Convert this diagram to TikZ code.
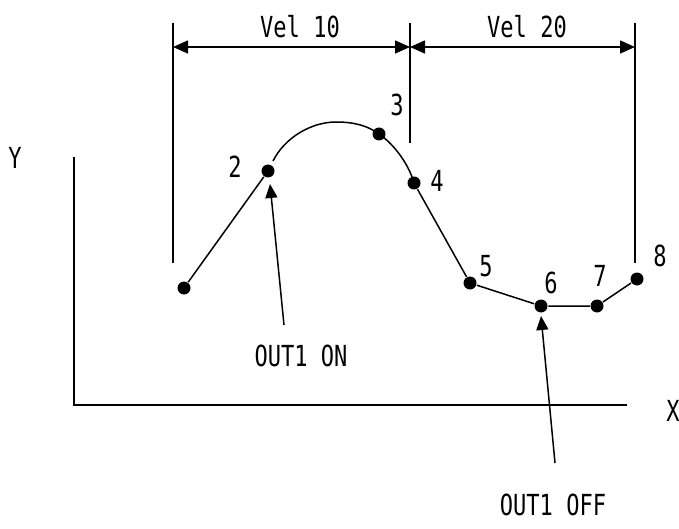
\documentclass[tikz,border=0pt]{standalone}
\usepackage{fontspec}
\newfontfamily\gothfont[FakeStretch=0.76]{DejaVu Sans Mono}
\usetikzlibrary{arrows.meta}

\tikzset{
    punto/.style={circle, fill=black, inner sep=0pt, minimum size=13pt},
    etichetta/.style={font=\gothfont\fontsize{29}{29}\selectfont, inner sep=0pt},
    freccia/.style={line width=1.5pt, -{Triangle[length=14pt,width=12pt]}},
    quota/.style={line width=1.5pt, {Triangle[length=15pt,width=13pt]}-{Triangle[length=15pt,width=13pt]}}
}

\begin{document}
\begin{tikzpicture}[x=1pt, y=-1pt, line width=1.5pt]
    \useasboundingbox (0,0) rectangle (679,529);

    % Assi cartesiani
    \coordinate (ytop) at (74,157);
    \coordinate (orig) at (74,405);
    \coordinate (xend) at (627,405);
    \draw (ytop) -- (orig) -- (xend);
    \node[etichetta] (ylab) at (15,158) {Y};
    \node[etichetta] (xlab) at (673,411) {X};

    % Punti della traiettoria
    \node[punto] (p1) at (184,288) {};
    \node[punto] (p2) at (268,171) {};
    \node[punto] (p3) at (379,134) {};
    \node[punto] (p4) at (414,183) {};
    \node[punto] (p5) at (470,283) {};
    \node[punto] (p6) at (541,306) {};
    \node[punto] (p7) at (597,306) {};
    \node[punto] (p8) at (637,279) {};

    % Numeri dei punti
    \node[etichetta] (n2) at (235,167) {2};
    \node[etichetta] (n3) at (397,105) {3};
    \node[etichetta] (n4) at (437,181) {4};
    \node[etichetta] (n5) at (486,266) {5};
    \node[etichetta] (n6) at (551,283) {6};
    \node[etichetta] (n7) at (600,276) {7};
    \node[etichetta] (n8) at (660,256) {8};

    % Tratti rettilinei e arco
    \coordinate (c2) at (273,161);
    \draw (p1) -- (p2);
    \draw (c2) .. controls (285,137) and (312,122) .. (336,122)
               .. controls (355,122) and (368,126) .. (p3.center)
               .. controls (395,145) and (409,165) .. (p4.center);
    \draw (p4) -- (p5) -- (p6) -- (p7) -- (p8);

    % Linee di riferimento verticali
    \coordinate (qa) at (173,47);
    \coordinate (qb) at (410,47);
    \coordinate (qc) at (635,47);
    \draw (173,23) -- (173,263);
    \draw (410,23) -- (410,143);
    \draw (635,23) -- (635,263);

    % Quote delle velocita
    \draw[quota] (qa) -- (qb);
    \draw[quota] (qb) -- (qc);
    \node[etichetta] (v10) at (300,27) {Vel 10};
    \node[etichetta] (v20) at (527,27) {Vel 20};

    % Frecce delle uscite
    \coordinate (on) at (284,325);
    \coordinate (off) at (555,463);
    \draw[freccia] (on) -- (270,184);
    \draw[freccia] (off) -- (541,316);
    \node[etichetta] (lon) at (301,356) {OUT1 ON};
    \node[etichetta] (loff) at (553,505) {OUT1 OFF};
\end{tikzpicture}
\end{document}
